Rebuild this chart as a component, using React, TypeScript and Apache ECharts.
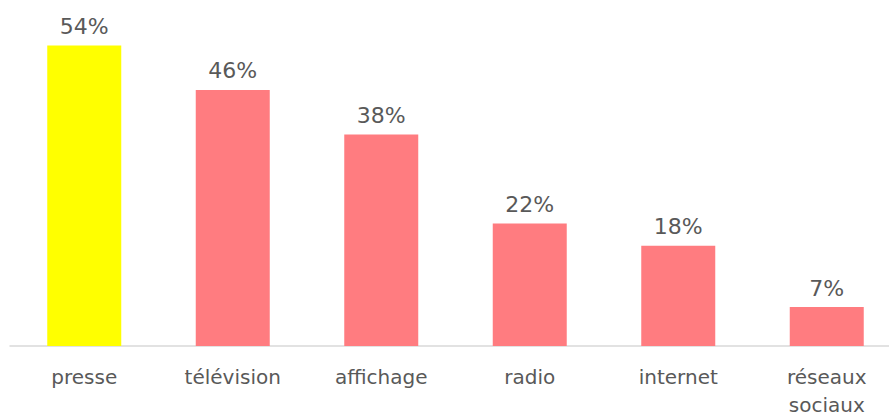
import React, { useEffect, useRef } from "react";
import * as echarts from "echarts";

const categories = ["presse", "télévision", "affichage", "radio", "internet", "réseaux\nsociaux"];
const values = [54, 46, 38, 22, 18, 7];
const barColors = ["#FFFF00", "#FF7C80", "#FF7C80", "#FF7C80", "#FF7C80", "#FF7C80"];

export default function App() {
  const ref = useRef<HTMLDivElement>(null);
  useEffect(() => {
    if (!ref.current) return;
    const chart = echarts.init(ref.current, undefined, { renderer: "svg" });
    chart.setOption({
      animation: false,
      backgroundColor: "#ffffff",
      grid: { left: 10, top: 12, width: 891, bottom: 70, containLabel: false, outerBoundsMode: "none" },
      xAxis: {
        type: "category",
        data: categories,
        axisLine: { show: true, lineStyle: { color: "#d9d9d9", width: 1.5 } },
        axisTick: { show: false },
        axisLabel: {
          color: "#595959",
          fontSize: 20,
          fontFamily: "DejaVu Sans",
          lineHeight: 28,
          margin: 17,
          interval: 0,
        },
      },
      yAxis: {
        type: "value",
        min: 0,
        max: 60,
        show: false,
        splitLine: { show: false },
      },
      series: [
        {
          type: "bar",
          barWidth: 74,
          data: values.map((v, i) => ({ value: v, itemStyle: { color: barColors[i] } })),
          label: {
            show: true,
            position: "top",
            distance: 8,
            formatter: "{c}%",
            color: "#595959",
            fontSize: 22,
            fontFamily: "DejaVu Sans",
          },
        },
      ],
    });
    return () => chart.dispose();
  }, []);
  return <div ref={ref} style={{ width: 889, height: 416, position: "absolute", left: 0, top: 0 }} />;
}
